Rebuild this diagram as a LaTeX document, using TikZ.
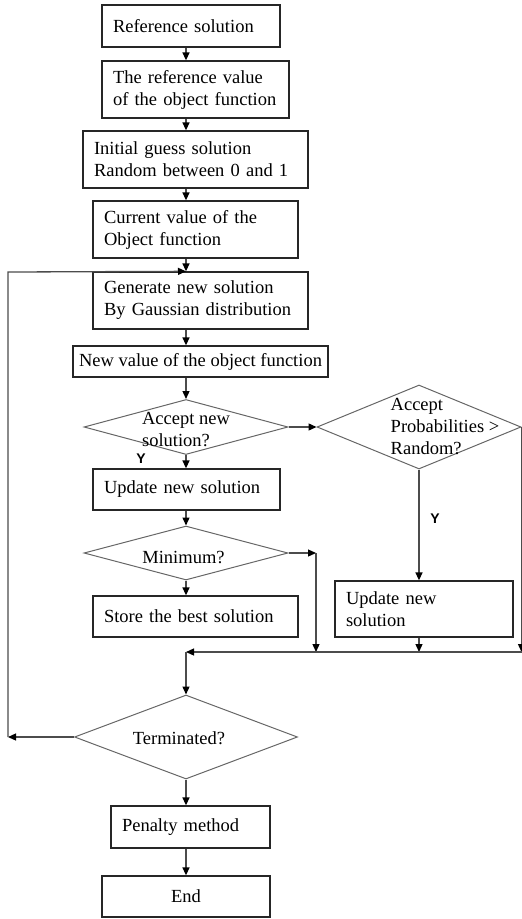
\documentclass[tikz,border=0pt]{standalone}
\usepackage{fontspec}
\setmainfont{Liberation Serif}
\setsansfont{Liberation Sans}
\usetikzlibrary{arrows.meta, shapes.geometric}
\tikzset{
  stepbox/.style={draw=black!85, line width=1.3pt, rectangle, inner xsep=11pt, inner ysep=0pt, align=left},
  decision/.style={draw=black!60, line width=1pt, diamond, inner sep=0pt},
  dtext/.style={align=left, inner sep=0pt},
  flow/.style={black!70, line width=1.3pt, -{Triangle[length=8pt, width=7pt, color=black]}},
  yes/.style={font=\sffamily\bfseries\fontsize{14}{14}\selectfont},
}

\begin{document}
\begin{tikzpicture}[x=1pt, y=-1pt, font=\fontsize{18.5}{22}\selectfont]
  \useasboundingbox (0,0) rectangle (522,919);
  \coordinate (axis) at (186,0);
  % main column
  \node[stepbox, text width=156pt, minimum height=42pt] (ref) at (191,26) {Reference solution};
  \node[stepbox, text width=165pt, minimum height=57pt] (refval) at (195.5,89.5) {The reference value\\of the object function};
  \node[stepbox, text width=203pt, minimum height=57pt] (init) at (195.5,159.5) {Initial guess solution\\Random between 0 and 1};
  \node[stepbox, text width=183pt, minimum height=57pt] (curr) at (195.5,229.5) {Current value of the\\Object function};
  \node[stepbox, text width=193pt, minimum height=57pt] (gen) at (200.5,300.5) {Generate new solution\\By Gaussian distribution};
  \node[stepbox, inner xsep=0pt, minimum width=255pt, minimum height=31pt] (newval) at (200.5,361.5) {New value of the object function};
  \node[decision, minimum width=204pt, minimum height=55pt,
    label={[dtext, yshift=-3pt]center:{Accept new\\solution?}}] (accept) at (186,427) {};
  \node[decision, minimum width=204pt, minimum height=84pt,
    label={[dtext, xshift=26pt]center:{Accept\\Probabilities >\\Random?}}] (prob) at (419,427) {};
  \node[stepbox, text width=165pt, minimum height=41pt] (upd) at (186.5,489.5) {Update new solution};
  \node[decision, minimum width=204pt, minimum height=54pt,
    label={[dtext, xshift=-2.5pt, yshift=-4.5pt]center:Minimum?}] (minim) at (186,553) {};
  \node[stepbox, text width=183pt, minimum height=41pt] (store) at (195.5,616.5) {Store the best solution};
  \node[stepbox, text width=156pt, minimum height=56pt] (upd2) at (424,609) {Update new\\solution};
  \node[decision, minimum width=223pt, minimum height=84pt,
    label={[dtext, xshift=-7pt, yshift=-1.5pt]center:Terminated?}] (term) at (186,737) {};
  \node[stepbox, text width=137pt, minimum height=42pt] (pen) at (190.5,827) {Penalty method};
  \node[stepbox, align=center, text width=146pt, minimum height=41pt] (end) at (186,896.5) {End};
  \node[yes] (yacc) at (141,459) {Y};
  \node[yes] (yprob) at (435,519) {Y};
  % corners of the side paths
  \coordinate (mcorner) at (316,553);
  \coordinate (mergeL) at (186,652);
  \coordinate (loopB) at (8,737);
  \coordinate (loopT) at (8,272);
  % connectors
  \draw[flow] (ref.south -| axis) -- (refval.north -| axis);
  \draw[flow] (refval.south -| axis) -- (init.north -| axis);
  \draw[flow] (init.south -| axis) -- (curr.north -| axis);
  \draw[flow] (curr.south -| axis) -- (gen.north -| axis);
  \draw[flow] (gen.south -| axis) -- (newval.north -| axis);
  \draw[flow] (newval.south -| axis) -- (accept.north);
  \draw[flow] (accept.south) -- (upd.north -| axis);
  \draw[flow] (upd.south -| axis) -- (minim.north);
  \draw[flow] (minim.south) -- (store.north -| axis);
  \draw[flow] (accept.east) -- (prob.west);
  \draw[flow] (prob.south) -- (upd2.north -| prob.south);
  \draw[flow] (minim.east) -- (mcorner);
  \draw[flow] (mcorner) -- (mcorner |- mergeL);
  \draw[flow] (upd2.south -| prob.south) -- (prob.south |- mergeL);
  \draw[flow] (prob.east) -- (prob.east |- mergeL);
  \draw[flow] (prob.east |- mergeL) -- (mergeL);
  \draw[flow] (mergeL) -- (term.north);
  \draw[flow] (term.west) -- (loopB);
  \draw[flow] (loopB) -- (loopT) -- (gen.north -| axis);
  \draw[flow] (term.south) -- (pen.north -| axis);
  \draw[flow] (pen.south -| axis) -- (end.north -| axis);
\end{tikzpicture}
\end{document}
